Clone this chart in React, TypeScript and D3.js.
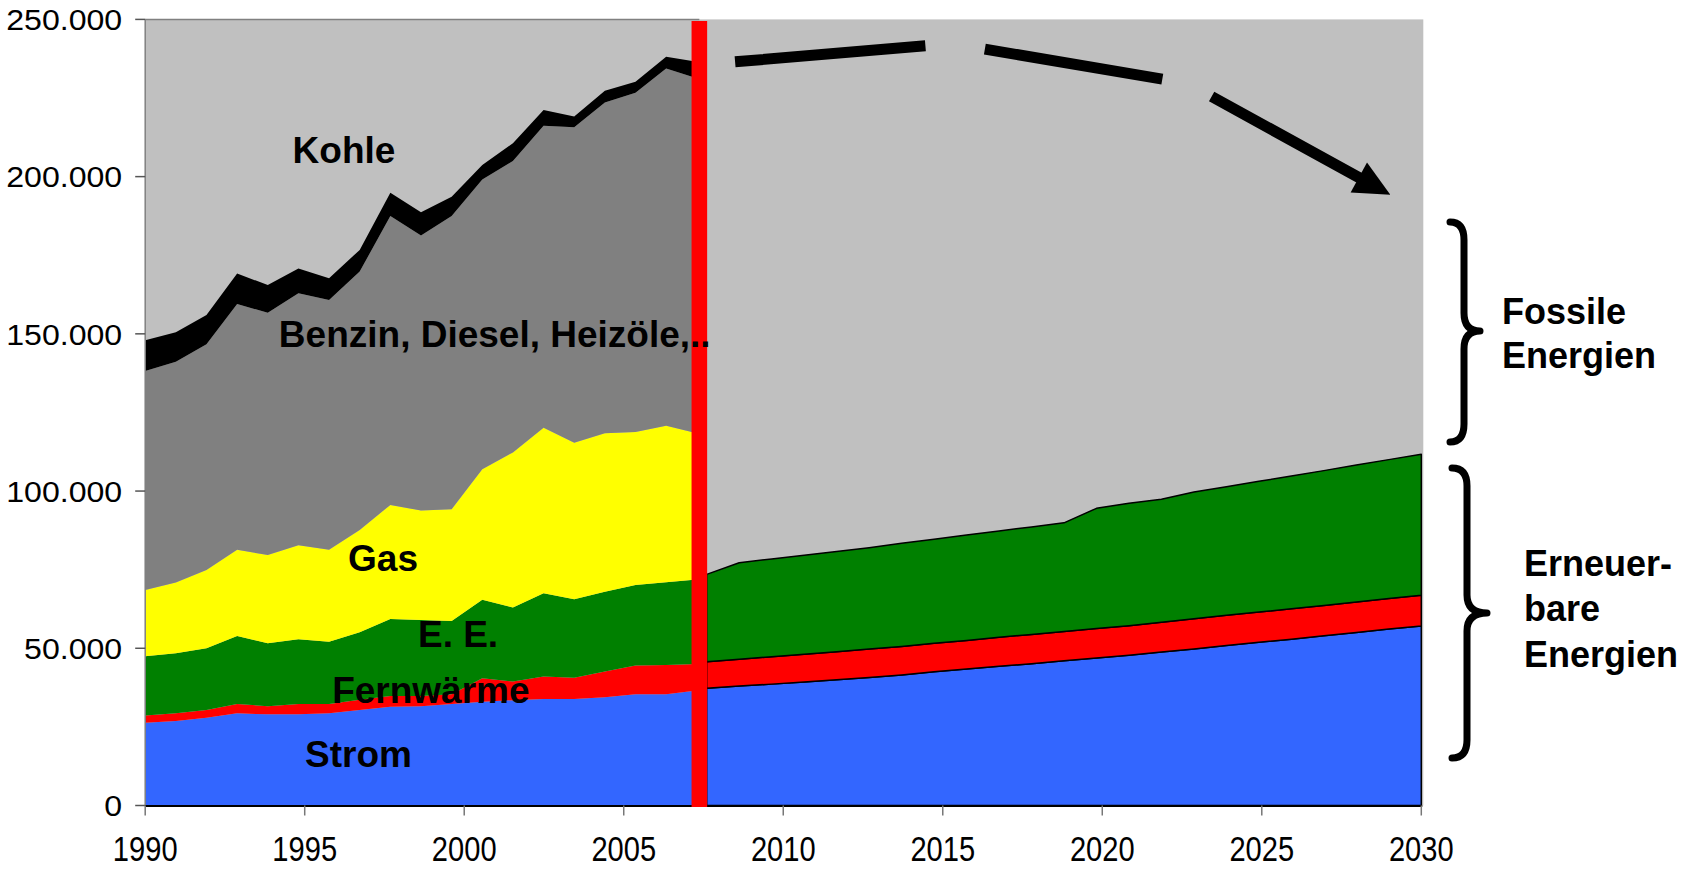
import { FC, useEffect, useRef } from 'react';
import * as d3 from 'd3';

// values in 1000s (stacked layers, bottom to top)
const histYears = [1990, 1991, 1992, 1993, 1994, 1995, 1996, 1997, 1998, 1999, 2000, 2001, 2002, 2003, 2004, 2005, 2006, 2007, 2008];
const histStrom = [26.3, 26.9, 27.9, 29.3, 29.0, 29.0, 29.3, 30.4, 31.4, 31.6, 32.3, 33.0, 33.5, 33.9, 33.9, 34.4, 35.4, 35.4, 36.6];
const histFernwaerme = [2.3, 2.4, 2.5, 3.0, 2.6, 3.3, 3.0, 3.2, 3.4, 3.2, 3.1, 7.5, 5.9, 7.1, 6.7, 8.2, 9.1, 9.3, 8.4];
const histEE = [18.9, 19.1, 19.6, 21.6, 20.0, 20.6, 19.8, 21.5, 24.5, 24.2, 23.3, 24.9, 23.6, 26.5, 25.0, 25.4, 25.6, 26.3, 26.9];
const histGas = [21.0, 22.5, 24.9, 27.4, 28.1, 29.9, 29.2, 32.5, 36.3, 34.8, 35.5, 41.5, 49.3, 52.6, 49.8, 50.4, 48.7, 49.8, 46.5];
const histOel = [69.7, 70.2, 71.8, 78.2, 77.0, 80.1, 79.5, 82.2, 91.9, 87.5, 93.3, 92.2, 92.7, 96.1, 100.3, 105.2, 107.9, 113.6, 112.9];
const histKohle = [9.8, 9.4, 9.3, 9.7, 8.8, 7.9, 6.9, 6.9, 7.4, 7.4, 6.1, 4.6, 5.6, 5.0, 3.4, 3.7, 3.5, 3.7, 5.2];

const futYears = [2008, 2009, 2010, 2011, 2012, 2013, 2014, 2015, 2016, 2017, 2018, 2019, 2020, 2021, 2022, 2023, 2024, 2025, 2026, 2027, 2028, 2029, 2030];
const futStrom = [37.3, 38.0, 38.6, 39.3, 40.0, 40.7, 41.5, 42.5, 43.4, 44.3, 45.1, 46.0, 46.9, 47.8, 48.8, 49.8, 50.9, 51.9, 52.9, 54.0, 55.0, 56.1, 57.1];
const futFernwaerme = [8.4, 8.5, 8.7, 8.8, 8.9, 9.1, 9.1, 9.1, 9.1, 9.2, 9.3, 9.3, 9.4, 9.4, 9.5, 9.6, 9.6, 9.6, 9.7, 9.6, 9.7, 9.7, 9.8];
const futEE = [27.8, 30.7, 31.1, 31.5, 31.9, 32.2, 32.8, 33.1, 33.5, 33.8, 34.2, 34.6, 38.2, 38.9, 39.1, 40.3, 40.9, 41.6, 42.2, 42.9, 43.6, 44.2, 44.8];

// dashed trend arrow (year, value)
const trendYears = [2008.49, 2015.29, 2022.69, 2029.03];
const trendValues = [236.5, 242.3, 229.6, 194.2];

const yTicks = [0, 50, 100, 150, 200, 250];
const yTickLabels = ['0', '50.000', '100.000', '150.000', '200.000', '250.000'];
const xTicks = [1990, 1995, 2000, 2005, 2010, 2015, 2020, 2025, 2030];

const histKeys = ['strom', 'fern', 'ee', 'gas', 'oel', 'kohle'];
const histColors = ['#3366FF', '#FF0000', '#008000', '#FFFF00', '#808080', '#000000'];
const futKeys = ['strom', 'fern', 'ee'];
const futColors = ['#3366FF', '#FF0000', '#008000'];

const labels = [
  { text: 'Kohle', year: 1994.62, value: 204.2 },
  { text: 'Benzin, Diesel, Heizöle,..', year: 1994.19, value: 145.9 },
  { text: 'Gas', year: 1996.36, value: 74.7 },
  { text: 'E. E.', year: 1998.55, value: 50.5 },
  { text: 'Fernwärme', year: 1995.86, value: 32.5 },
  { text: 'Strom', year: 1995.01, value: 12.3 },
];

const FONT = "'Liberation Sans', Arial, Helvetica, sans-serif";

const App: FC = () => {
  const svgRef = useRef<SVGSVGElement>(null);

  useEffect(() => {
    if (!svgRef.current) return;
    const svg = d3.select(svgRef.current);
    svg.selectAll('*').remove();

    const left = 145.2, right = 1421.3, top = 19.4, bottom = 805.5;

    const x = d3.scaleLinear().domain([1990, 2030]).range([left, right]);
    const y = d3.scaleLinear().domain([0, 250]).range([bottom, top]);
    // the historical and projection panels were pasted side by side, each with its own spacing
    const xHist = d3.scaleLinear().domain([1990, 2008]).range([x(1990), x(2007.29)]);
    const xFut = d3.scaleLinear().domain([2008, 2030]).range([x(2007.6), x(2030)]);

    // Plot background
    svg.append('rect')
      .attr('x', left)
      .attr('y', top)
      .attr('width', right - left + 2)
      .attr('height', bottom - top)
      .attr('fill', '#C0C0C0');

    // Historical stack
    const histRows = histYears.map((yr, i) => ({
      year: yr,
      strom: histStrom[i],
      fern: histFernwaerme[i],
      ee: histEE[i],
      gas: histGas[i],
      oel: histOel[i],
      kohle: histKohle[i],
    }));
    const histSeries = d3.stack<any>().keys(histKeys)(histRows);
    const histArea = d3.area<any>()
      .x(d => xHist(d.data.year))
      .y0(d => y(d[0]))
      .y1(d => y(d[1]));

    svg.append('g')
      .selectAll('path')
      .data(histSeries)
      .enter()
      .append('path')
      .attr('fill', (d, i) => histColors[i])
      .attr('d', histArea as any);

    // Projection stack
    const futRows = futYears.map((yr, i) => ({
      year: yr,
      strom: futStrom[i],
      fern: futFernwaerme[i],
      ee: futEE[i],
    }));
    const futSeries = d3.stack<any>().keys(futKeys)(futRows);
    const futArea = d3.area<any>()
      .x(d => xFut(d.data.year))
      .y0(d => y(d[0]))
      .y1(d => y(d[1]));

    svg.append('g')
      .selectAll('path')
      .data(futSeries)
      .enter()
      .append('path')
      .attr('fill', (d, i) => futColors[i])
      .attr('stroke', '#000')
      .attr('stroke-width', 1.5)
      .attr('stroke-linejoin', 'round')
      .attr('d', futArea as any);

    // top border of historical panel
    svg.append('line')
      .attr('x1', left).attr('x2', x(2007.37))
      .attr('y1', top).attr('y2', top)
      .attr('stroke', '#808080')
      .attr('stroke-width', 1.5);

    // Y axis
    svg.append('line')
      .attr('x1', left).attr('x2', left)
      .attr('y1', top).attr('y2', bottom)
      .attr('stroke', '#808080')
      .attr('stroke-width', 1.5);

    const yAxis = svg.append('g');
    yAxis.selectAll('line')
      .data(yTicks)
      .enter()
      .append('line')
      .attr('x1', left - 10).attr('x2', left)
      .attr('y1', d => y(d)).attr('y2', d => y(d))
      .attr('stroke', '#555')
      .attr('stroke-width', 1.5);
    yAxis.selectAll('text')
      .data(yTicks)
      .enter()
      .append('text')
      .attr('transform', d => `translate(${left - 23},${y(d)}) scale(1.07,1)`)
      .attr('dy', '0.36em')
      .attr('text-anchor', 'end')
      .style('font-family', FONT)
      .style('font-size', '30px')
      .attr('fill', '#000')
      .text((d, i) => yTickLabels[i]);

    // X axis
    svg.append('line')
      .attr('x1', left).attr('x2', right + 1)
      .attr('y1', bottom + 0.5).attr('y2', bottom + 0.5)
      .attr('stroke', '#000')
      .attr('stroke-width', 2);

    const xAxis = svg.append('g');
    xAxis.selectAll('line')
      .data(xTicks)
      .enter()
      .append('line')
      .attr('x1', d => x(d)).attr('x2', d => x(d))
      .attr('y1', bottom).attr('y2', bottom + 10)
      .attr('stroke', '#777')
      .attr('stroke-width', 1.5);
    xAxis.selectAll('text')
      .data(xTicks)
      .enter()
      .append('text')
      .attr('transform', d => `translate(${x(d)},861) scale(0.97,1.15)`)
      .attr('text-anchor', 'middle')
      .style('font-family', FONT)
      .style('font-size', '30px')
      .attr('fill', '#000')
      .text(d => String(d));

    // Red divider today/projection
    const redX = x(2007.37);
    svg.append('rect')
      .attr('x', redX - 7.8)
      .attr('y', 21)
      .attr('width', 15.6)
      .attr('height', 807 - 21)
      .attr('fill', '#FF0000');

    // Dashed trend arrow
    const pts = trendYears.map((yr, i) => [x(yr), y(trendValues[i])] as [number, number]);
    const tip = pts[pts.length - 1];
    const prev = pts[pts.length - 2];
    const len = Math.hypot(tip[0] - prev[0], tip[1] - prev[1]);
    const dir = [(tip[0] - prev[0]) / len, (tip[1] - prev[1]) / len];
    const linePts = pts.slice(0, -1).concat([[tip[0] - dir[0] * 30, tip[1] - dir[1] * 30]]);
    svg.append('path')
      .attr('d', d3.line()(linePts as [number, number][]))
      .attr('fill', 'none')
      .attr('stroke', '#000')
      .attr('stroke-width', 11)
      .attr('stroke-linejoin', 'miter')
      .attr('stroke-dasharray', '191 60 180 53 1000');
    const headLen = 36, headHalf = 17;
    const base = [tip[0] - dir[0] * headLen, tip[1] - dir[1] * headLen];
    const perp = [-dir[1], dir[0]];
    svg.append('polygon')
      .attr('points', [
        tip,
        [base[0] + perp[0] * headHalf, base[1] + perp[1] * headHalf],
        [base[0] - perp[0] * headHalf, base[1] - perp[1] * headHalf],
      ].map(p => p.join(',')).join(' '))
      .attr('fill', '#000');

    // Area labels
    svg.append('g')
      .selectAll('text')
      .data(labels)
      .enter()
      .append('text')
      .attr('x', d => x(d.year))
      .attr('y', d => y(d.value))
      .style('font-family', FONT)
      .style('font-size', '37px')
      .style('font-weight', 'bold')
      .attr('fill', '#000')
      .text(d => d.text);

    // Curly braces on the right
    const brace = (x0: number, xs: number, xt: number, y0: number, ym: number, y1: number) => {
      const r = 18;
      return `M${x0},${y0} Q${xs},${y0} ${xs},${y0 + r} L${xs},${ym - r} Q${xs},${ym} ${xt},${ym}` +
        ` Q${xs},${ym} ${xs},${ym + r} L${xs},${y1 - r} Q${xs},${y1} ${x0},${y1}`;
    };
    svg.append('path')
      .attr('d', brace(1450, 1464, 1480, 222, 331, 442))
      .attr('fill', 'none')
      .attr('stroke', '#000')
      .attr('stroke-width', 7)
      .attr('stroke-linecap', 'round')
      .attr('stroke-linejoin', 'round');
    svg.append('path')
      .attr('d', brace(1452, 1467, 1487, 468, 613, 758))
      .attr('fill', 'none')
      .attr('stroke', '#000')
      .attr('stroke-width', 7)
      .attr('stroke-linecap', 'round')
      .attr('stroke-linejoin', 'round');

    const sideText = [
      { t: 'Fossile', x: 1502, y: 324 },
      { t: 'Energien', x: 1502, y: 368 },
      { t: 'Erneuer-', x: 1524, y: 576 },
      { t: 'bare', x: 1524, y: 621 },
      { t: 'Energien', x: 1524, y: 667 },
    ];
    svg.append('g')
      .selectAll('text')
      .data(sideText)
      .enter()
      .append('text')
      .attr('x', d => d.x)
      .attr('y', d => d.y)
      .style('font-family', FONT)
      .style('font-size', '36px')
      .style('font-weight', 'bold')
      .attr('fill', '#000')
      .text(d => d.t);
  }, []);

  return (
    <svg
      ref={svgRef}
      width={1686}
      height={869}
      style={{ position: 'absolute', left: 0, top: 0, background: '#fff' }}
    />
  );
};

export default App;
